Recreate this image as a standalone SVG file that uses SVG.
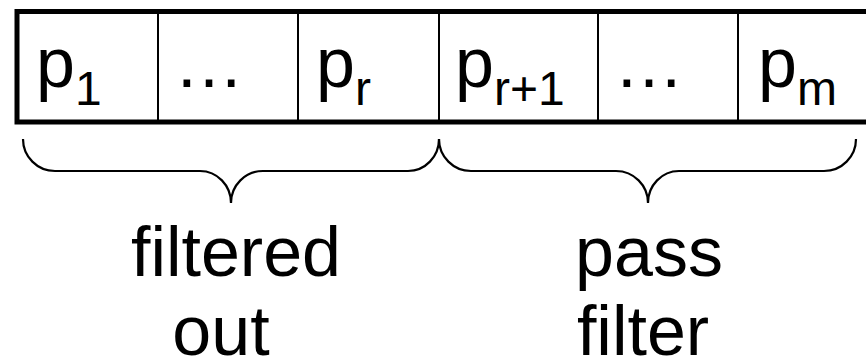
<svg xmlns="http://www.w3.org/2000/svg" width="866" height="361" viewBox="0 0 866 361">
<style>
.t{font-family:"Liberation Sans",Arial,sans-serif;fill:#000}
.main{font-size:70px}
.sub{font-size:48px}
.div{stroke:#000;stroke-width:2;fill:none}
.brace{stroke:#000;stroke-width:2.2;fill:none}
</style>
<rect width="866" height="361" fill="#fff"/>
<g id="array">
<rect x="17" y="11.5" width="900" height="110.5" fill="none" stroke="#000" stroke-width="5"/>
<line class="div" x1="158" y1="14" x2="158" y2="120"/>
<line class="div" x1="298" y1="14" x2="298" y2="120"/>
<line class="div" x1="439" y1="14" x2="439" y2="120"/>
<line class="div" x1="598" y1="14" x2="598" y2="120"/>
<line class="div" x1="738" y1="14" x2="738" y2="120"/>
</g>
<g id="cell-p1"><text class="t main" x="36" y="87">p<tspan class="sub" dy="18">1</tspan></text></g>
<g id="cell-dots1"><text class="t main" x="174" y="87">…</text></g>
<g id="cell-pr"><text class="t main" x="316" y="87">p<tspan class="sub" dy="18">r</tspan></text></g>
<g id="cell-pr1"><text class="t main" x="455" y="87">p<tspan class="sub" dy="18">r+1</tspan></text></g>
<g id="cell-dots2"><text class="t main" x="614" y="87">…</text></g>
<g id="cell-pm"><text class="t main" x="758" y="87">p<tspan class="sub" dy="18">m</tspan></text></g>
<g id="connectors">
<path class="brace" d="M23,139 A32,32 0 0 0 55,171 L200,171 A31,32 0 0 1 231,203 A32,32 0 0 1 263,171 L408,171 A31,32 0 0 0 439,139"/>
<path class="brace" d="M439,139 A32,32 0 0 0 471,171 L616,171 A32,32 0 0 1 648,203 A31,32 0 0 1 679,171 L824,171 A32,32 0 0 0 856,139"/>
</g>
<g id="label-filtered">
<text class="t main" x="236" y="276" text-anchor="middle">filtered</text>
<text class="t main" x="221" y="355" text-anchor="middle">out</text>
</g>
<g id="label-pass">
<text class="t main" x="649" y="276" text-anchor="middle">pass</text>
<text class="t main" x="643" y="355" text-anchor="middle">filter</text>
</g>
</svg>
